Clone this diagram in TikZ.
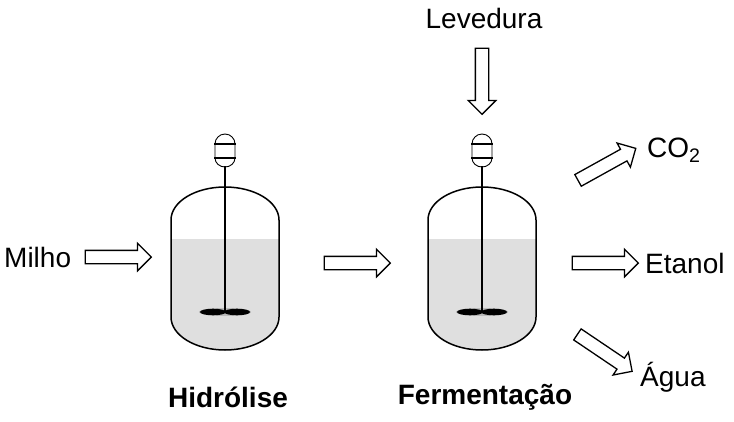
\documentclass[tikz,border=0pt]{standalone}
\usepackage{fontspec}
\setmainfont{Liberation Sans}
\usetikzlibrary{shapes.arrows}
\begin{document}
\begin{tikzpicture}[x=1pt,y=1pt,
  lbl/.style={font=\fontsize{28}{32}\selectfont, inner sep=0},
  bar/.style={single arrow, draw=black, line width=1.3pt, fill=white, minimum height=66pt, minimum width=27pt, single arrow tip angle=90, inner sep=0pt, anchor=center}]
\useasboundingbox (0,0) rectangle (734,-421);
\newcommand{\reactor}[2]{%
  \begin{scope}[shift={(#1,0)}]
  \fill[gray!25] (-54,-239) -- (54,-239) -- (54,-317) arc[start angle=0,end angle=-180,x radius=54,y radius=33] -- cycle;
  \draw[line width=1.5pt] (-54,-220) arc[start angle=180,end angle=0,x radius=54,y radius=33] -- (54,-317) arc[start angle=0,end angle=-180,x radius=54,y radius=33] -- cycle;
  \fill[gray!55] (0,-312) ellipse[x radius=26,y radius=4];
  \fill[black] (-12,-312) ellipse[x radius=13,y radius=3.3];
  \fill[black] (12,-312) ellipse[x radius=13,y radius=3.3];
  \draw[line width=1.6pt] (0,-166) -- (0,-312);
  \draw[line width=0.9pt] (-10,-144) arc[start angle=180,end angle=0,radius=10] -- (10,-158) arc[start angle=0,end angle=-180,x radius=10,y radius=9] -- cycle;
  \draw[line width=1.4pt] (-11,-144) -- (11,-144) (-11,-158) -- (11,-158);
  \node[inner sep=0] (#2) at (0,-260) {};
  \end{scope}}
\reactor{225}{r1}
\reactor{482}{r2}
\newcommand{\shaft}{\rule{0pt}{12pt}}
\node[lbl, anchor=west] (milho) at (4,-257) {Milho};
\node[bar] (a1) at (115,-257) {\shaft};
\node[bar] (a2) at (354,-263) {\shaft};
\node[lbl] (lev) at (484,-18) {Levedura};
\node[bar, rotate=-90] (a3) at (482,-78) {\shaft};
\node[bar, rotate=29] (a4) at (604,-166) {\shaft};
\node[lbl, anchor=west] (co2) at (647,-150) {CO\textsubscript{2}};
\node[bar] (a5) at (602,-263) {\shaft};
\node[lbl, anchor=west] (et) at (645,-263) {Etanol};
\node[bar, rotate=-34] (a6) at (602,-351) {\shaft};
\node[lbl, anchor=west] (ag) at (640,-377) {Água};
\node[lbl, font=\fontsize{28}{32}\selectfont\bfseries] (h) at (228,-397) {Hidrólise};
\node[lbl, font=\fontsize{28}{32}\selectfont\bfseries] (f) at (485,-397) {Fermentação};
\end{tikzpicture}
\end{document}
